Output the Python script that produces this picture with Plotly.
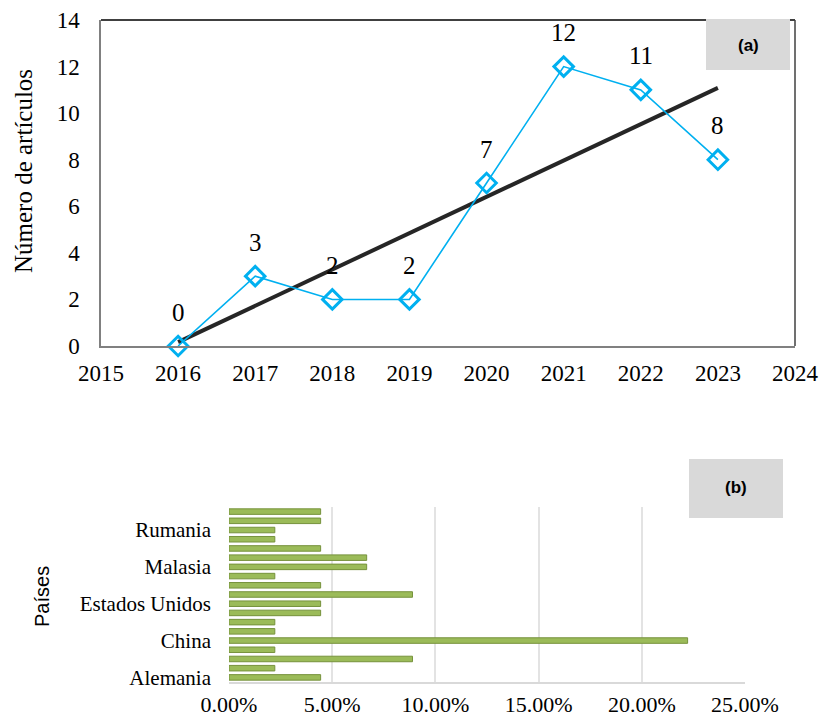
import numpy as np
import plotly.graph_objects as go

# ---- Data (a): articles per year ----
years = [2016, 2017, 2018, 2019, 2020, 2021, 2022, 2023]
articles = [0, 3, 2, 2, 7, 12, 11, 8]
year_ticks = [2015, 2016, 2017, 2018, 2019, 2020, 2021, 2022, 2023, 2024]
count_ticks = [0, 2, 4, 6, 8, 10, 12, 14]

# ---- Data (b): share of articles by country (bottom to top) ----
countries = ["Alemania", "Arabia Saudita", "Australia", "Brasil", "China",
             "Colombia", "Corea del Sur", "España", "Estados Unidos", "Francia",
             "India", "Irán", "Malasia", "México", "Pakistán", "Reino Unido",
             "Rumania", "Turquía", "Vietnam"]
shares = [0.0444, 0.0222, 0.0889, 0.0222, 0.2222,
          0.0222, 0.0222, 0.0444, 0.0444, 0.0889,
          0.0444, 0.0222, 0.0667, 0.0667, 0.0444,
          0.0222, 0.0222, 0.0444, 0.0444]
shown_countries = ["Alemania", "China", "Estados Unidos", "Malasia", "Rumania"]
pct_ticks = [0, 0.05, 0.10, 0.15, 0.20, 0.25]

W, H = 820, 719
def px(x): return x / W
def py(y): return 1 - y / H

# linear trendline (least squares)
slope, intercept = np.polyfit(np.arange(len(years)), articles, 1)
trend_y = [intercept + slope * i for i in range(len(years))]

serif = "Liberation Serif"
sans = "Liberation Sans"
cyan = "#00B0F0"

fig = go.Figure()

fig.add_trace(go.Scatter(
    x=[years[0], years[-1]], y=[trend_y[0], trend_y[-1]],
    mode="lines", line=dict(color="#262626", width=4),
    xaxis="x", yaxis="y", showlegend=False, hoverinfo="skip"))

fig.add_trace(go.Scatter(
    x=years, y=articles, mode="lines+markers",
    line=dict(color=cyan, width=1.6),
    marker=dict(symbol="diamond-open", size=15, color=cyan,
                line=dict(color=cyan, width=3)),
    xaxis="x", yaxis="y", showlegend=False, cliponaxis=False))

fig.add_trace(go.Bar(
    x=shares, y=countries, orientation="h",
    marker=dict(color="#9BBB59", line=dict(color="#76923C", width=1)),
    xaxis="x2", yaxis="y2", showlegend=False, width=0.6))

annotations = [
    dict(text=str(v), x=yr, y=v, xref="x", yref="y", yshift=34,
         xanchor="center", yanchor="middle",
         showarrow=False, font=dict(family=serif, size=25, color="#000000"))
    for yr, v in zip(years, articles)
]
annotations += [
    dict(text="<b>(a)</b>", xref="paper", yref="paper",
         x=px(748), y=py(45), xanchor="center", yanchor="middle",
         showarrow=False, font=dict(family=sans, size=17, color="#000000")),
    dict(text="<b>(b)</b>", xref="paper", yref="paper",
         x=px(736), y=py(488), xanchor="center", yanchor="middle",
         showarrow=False, font=dict(family=sans, size=17, color="#000000")),
    dict(text="Número de artículos", xref="paper", yref="paper",
         x=px(23), y=py(171), xanchor="center", yanchor="middle",
         textangle=-90, showarrow=False,
         font=dict(family=serif, size=25, color="#000000")),
    dict(text="Países", xref="paper", yref="paper",
         x=px(42), y=py(597), xanchor="center", yanchor="middle",
         textangle=-90, showarrow=False,
         font=dict(family=sans, size=20, color="#000000")),
]

fig.update_layout(
    width=W, height=H, margin=dict(l=0, r=0, t=0, b=0, autoexpand=False),
    paper_bgcolor="white", plot_bgcolor="white",
    xaxis=dict(domain=[px(101), px(795)], range=[2015, 2024],
               tickvals=year_ticks, ticktext=[str(v) for v in year_ticks],
               showgrid=False, zeroline=False, showline=True,
               linecolor="#808080", linewidth=1.5, ticks="",
               ticklabelstandoff=6, automargin=False,
               tickfont=dict(family=serif, size=23, color="#000000"),
               anchor="y"),
    yaxis=dict(domain=[py(346), py(20)], range=[0, 14],
               tickvals=count_ticks, showgrid=False, zeroline=False,
               showline=True, linecolor="#808080", linewidth=1.5, ticks="",
               ticklabelstandoff=15, automargin=False,
               tickfont=dict(family=serif, size=23, color="#000000"),
               anchor="x"),
    xaxis2=dict(domain=[px(229), px(745)], range=[0, 0.25],
                tickvals=pct_ticks, tickformat=".2%",
                showgrid=True, gridcolor="#E3E3E3", gridwidth=1.5,
                zeroline=False, showline=True, linecolor="#D9D9D9",
                linewidth=2, ticks="", ticklabelstandoff=2, automargin=False,
                tickfont=dict(family=serif, size=22, color="#000000"),
                anchor="y2"),
    yaxis2=dict(domain=[py(682), py(507)], type="category",
                categoryorder="array", categoryarray=countries,
                tickvals=shown_countries, ticktext=shown_countries,
                showgrid=False, zeroline=False, showline=False, ticks="",
                ticklabelstandoff=17, automargin=False,
                tickfont=dict(family=serif, size=21, color="#000000"),
                anchor="x2"),
    bargap=0.4,
    shapes=[
        dict(type="line", xref="paper", yref="paper",
             x0=px(101), x1=px(795), y0=py(20), y1=py(20),
             line=dict(color="#000000", width=1.5)),
        dict(type="line", xref="paper", yref="paper",
             x0=px(795), x1=px(795), y0=py(20), y1=py(346),
             line=dict(color="#404040", width=1.5)),
        dict(type="rect", xref="paper", yref="paper",
             x0=px(706), x1=px(790), y0=py(70), y1=py(19),
             fillcolor="#D9D9D9", line=dict(width=0)),
        dict(type="rect", xref="paper", yref="paper",
             x0=px(689), x1=px(783), y0=py(518), y1=py(459),
             fillcolor="#D9D9D9", line=dict(width=0)),
    ],
    annotations=annotations,
)

fig.write_html(
    "out.html",
    config={"displayModeBar": False},
    post_script="document.body.style.margin='0';"
                "document.body.style.overflow='hidden';",
)
